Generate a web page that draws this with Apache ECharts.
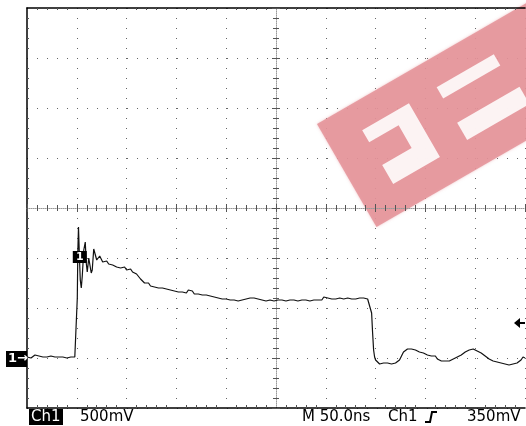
<!DOCTYPE html>
<html><head><meta charset="utf-8">
<script src="https://cdn.jsdelivr.net/npm/echarts@6/dist/echarts.min.js"></script>
<style>html,body{margin:0;padding:0;background:#fff;overflow:hidden}#c{width:526px;height:426px}</style>
</head><body><div id="c"></div>
<script>
// ---- data: [time ns from left edge of screen, volts relative to Ch1 ground] ----
const baselinePts = [
  [0,0.01],[2,0.02],[4,0.00],[6,0.01],[8,0.03],[10,0.01],[12,0.02],[14,0.00],[16,0.01],[18,0.02],
  [20,0.01],[22,0.03],[24,0.02],[26,0.00],[28,0.01],[30,0.02],[32,0.01],[34,0.03],[36,0.01],[38,0.02],
  [40,0.00],[42,0.02],[44,0.01],[46,0.03],[48,0.01]
];
const edgePts = [
  [49.5,0.02],[50.5,0.60],[51,1.05],[51.7,1.31],[52.5,1.05],[53.5,0.78],[54.5,0.70],[55.5,0.82],
  [57,1.08],[58.5,1.16],[59.5,0.95],[60.5,0.86],[62,1.00],[63,1.01],[64.5,0.85],[65.5,0.88],
  [67,1.09],[68,1.11],[70,0.98],[71.5,1.00],[73,1.02]
];
const decayPts = [
  [76,0.96],[78,0.98],[80,0.97],[82,0.94],[84,0.96],[86,0.93],[88,0.95],[90,0.91],[92,0.93],[94,0.90],
  [96,0.89],[98,0.91],[100,0.88],[102,0.87],[104,0.89],[106,0.86],[108,0.87],[110,0.84],[112,0.82],[114,0.79],
  [116,0.77],[118,0.75],[120,0.74],[122,0.75],[124,0.72],[126,0.74],[128,0.71],[130,0.73],[132,0.70],[134,0.72],
  [136,0.70],[138,0.71],[140,0.69],[142,0.71],[144,0.68],[146,0.69],[148,0.67],[150,0.69],[152,0.66],[154,0.68],
  [156,0.66],[158,0.67],[160,0.65],[162,0.68],[164,0.66],[166,0.67],[168,0.64],[170,0.66],[172,0.64],[174,0.65],
  [176,0.63],[178,0.65],[180,0.63],[182,0.64],[184,0.62],[186,0.63],[188,0.61],[190,0.63],[192,0.60],[194,0.61],
  [196,0.59],[198,0.61],[200,0.59],[202,0.60],[204,0.58],[206,0.60],[208,0.58],[210,0.59],[212,0.57],[214,0.59],
  [216,0.58],[218,0.60],[220,0.59],[222,0.61],[224,0.60],[226,0.62],[228,0.60],[230,0.61],[232,0.59],[234,0.60],
  [236,0.58],[238,0.59],[240,0.57],[242,0.59],[244,0.58],[246,0.59],[248,0.57],[250,0.59],[252,0.58],[254,0.60],
  [256,0.58],[258,0.59],[260,0.57],[262,0.59],[264,0.58],[266,0.60],[268,0.58],[270,0.59],[272,0.57],[274,0.59],
  [276,0.58],[278,0.60],[280,0.58],[282,0.59],[284,0.57],[286,0.59],[288,0.58],[290,0.60],[292,0.58],[294,0.59],
  [296,0.58],[298,0.61],[300,0.59],[302,0.60],[304,0.58],[306,0.59],[308,0.57],[310,0.59],[312,0.58],[314,0.60],
  [316,0.58],[318,0.59],[320,0.58],[322,0.60],[324,0.58],[326,0.59],[328,0.57],[330,0.59],[332,0.58],[334,0.60],
  [336,0.59],[338,0.60],[340,0.58],[342,0.59],[344,0.57]
];
const tailPts = [
  [346,0.45],[347,0.25],[348,0.08],[349,0.01],[350,-0.02],
  [352,-0.04],[354,-0.06],[356,-0.04],[358,-0.05],[360,-0.03],[362,-0.05],[364,-0.04],[366,-0.06],[368,-0.04],[370,-0.05],
  [372,-0.03],[374,-0.02],[376,0.02],[378,0.06],[380,0.08],[382,0.09],[384,0.08],[386,0.09],[388,0.07],[390,0.08],
  [392,0.07],[394,0.06],[396,0.07],[398,0.05],[400,0.05],[402,0.03],[404,0.04],[406,0.02],[408,0.01],[410,0.02],
  [412,-0.01],[414,-0.01],[416,-0.03],[418,-0.02],[420,-0.03],[422,-0.01],[424,-0.03],[426,-0.02],[428,-0.01],[430,-0.02],
  [432,0.01],[434,0.01],[436,0.03],[438,0.04],[440,0.06],[442,0.07],[444,0.08],[446,0.10],[448,0.09],[450,0.10],
  [452,0.07],[454,0.07],[456,0.05],[458,0.04],[460,0.02],[462,0.02],[464,-0.01],[466,-0.01],[468,-0.03],[470,-0.02],
  [472,-0.04],[474,-0.04],[476,-0.05],[478,-0.04],[480,-0.06],[482,-0.05],[484,-0.07],[486,-0.06],[488,-0.06],[490,-0.07],
  [492,-0.05],[494,-0.06],[496,-0.02],[498,0.01],[500,0.00]
];
const nsPerDiv = 50;
const voltsPerDiv = 0.5;
const screenV = [-0.5, 3.5];
const screenNs = [0, 500];
const triggerLevelV = 0.35;
const markerPoint = [53, 1.01];
const statusTexts = ['Ch1', '500mV', 'M 50.0ns', 'Ch1', '350mV'];

// ---- chart ----
const chart = echarts.init(document.getElementById('c'), null, {renderer: 'canvas'});
const FONT = 'DejaVu Sans';
const gridDots = {show: true, lineStyle: {color: '#666', width: 1, type: [1, 9]}};
function xAx(extra) {
  return Object.assign({
    type: 'value', min: screenNs[0], max: screenNs[1], interval: nsPerDiv,
    axisLabel: {show: false}, splitLine: {show: false},
    axisTick: {show: false}, minorTick: {show: false},
    axisLine: {show: false, onZero: false}
  }, extra);
}
function yAx(extra) {
  return Object.assign({
    type: 'value', min: screenV[0], max: screenV[1], interval: voltsPerDiv,
    axisLabel: {show: false}, splitLine: {show: false},
    axisTick: {show: false}, minorTick: {show: false},
    axisLine: {show: false, onZero: false}
  }, extra);
}
const crossLine = {show: true, onZero: false, lineStyle: {color: '#9a9a9a', width: 1, type: [1, 1]}};
const tickStyle = {color: '#555', width: 1};
chart.setOption({
  animation: false,
  backgroundColor: '#ffffff',
  grid: {left: 27, top: 8, width: 498, height: 400, containLabel: false, outerBoundsMode: 'none'},
  xAxis: [
    xAx({position: 'bottom', splitLine: gridDots,
         axisLine: {show: true, onZero: false, lineStyle: {color: '#000', width: 1.5}},
         axisTick: {show: false, inside: true},
         minorTick: {show: true, splitNumber: 5, length: 3, lineStyle: tickStyle}}),
    xAx({position: 'top',
         axisLine: {show: true, onZero: false, lineStyle: {color: '#000', width: 1.5}},
         axisTick: {show: false, inside: true},
         minorTick: {show: true, splitNumber: 5, length: 2, lineStyle: tickStyle}}),
    xAx({position: 'bottom', offset: -200, axisLine: crossLine,
         axisTick: {show: true, inside: true, length: 4, lineStyle: tickStyle},
         minorTick: {show: true, splitNumber: 5, length: 3, lineStyle: tickStyle}}),
    xAx({position: 'bottom', offset: -200,
         axisTick: {show: true, inside: false, length: 4, lineStyle: tickStyle},
         minorTick: {show: true, splitNumber: 5, length: 3, lineStyle: tickStyle}})
  ],
  yAxis: [
    yAx({position: 'left', splitLine: gridDots,
         axisLine: {show: true, onZero: false, lineStyle: {color: '#000', width: 1.5}},
         axisTick: {show: false, inside: true},
         minorTick: {show: true, splitNumber: 5, length: 2, lineStyle: tickStyle}}),
    yAx({position: 'left', offset: -249, axisLine: crossLine,
         axisTick: {show: true, inside: true, length: 4, lineStyle: tickStyle},
         minorTick: {show: true, splitNumber: 5, length: 3, lineStyle: tickStyle}}),
    yAx({position: 'left', offset: -249,
         axisTick: {show: true, inside: false, length: 4, lineStyle: tickStyle},
         minorTick: {show: true, splitNumber: 5, length: 3, lineStyle: tickStyle}})
  ],
  series: [{
    type: 'line', xAxisIndex: 0, yAxisIndex: 0, showSymbol: false, symbol: 'none',
    data: baselinePts.concat(edgePts, decayPts, tailPts),
    lineStyle: {color: '#111', width: 1.2}, z: 5
  }]
});

// ---- annotations positioned through the chart's own scales ----
const gnd = chart.convertToPixel({gridIndex: 0}, [0, 0]);
const trg = chart.convertToPixel({gridIndex: 0}, [screenNs[1], triggerLevelV]);
const mk = chart.convertToPixel({gridIndex: 0}, markerPoint);
const white = 'rgba(255,255,255,0.88)';
const textY = 417;
chart.setOption({
  graphic: [
    // watermark
    {type: 'group', x: 317, y: 124, rotation: Math.PI / 6, z: 50, children: [
      {type: 'rect', shape: {x: 0, y: 0, width: 330, height: 119}, style: {fill: 'rgba(228,146,152,0.85)', shadowBlur: 3, shadowColor: 'rgba(228,146,152,0.6)'}},
      {type: 'polygon', shape: {points: [[36,28],[90,28],[90,90],[36,90],[36,68],[70,68],[70,42],[36,42]]}, style: {fill: white}},
      {type: 'rect', shape: {x: 122, y: 28, width: 66, height: 13}, style: {fill: white}},
      {type: 'rect', shape: {x: 122, y: 69, width: 72, height: 20}, style: {fill: white}}
    ]},
    // ground marker
    {type: 'rect', shape: {x: 6, y: gnd[1] - 7, width: 21, height: 16}, style: {fill: '#000'}, z: 60},
    {type: 'text', x: 8, y: gnd[1] + 1, style: {text: '1→', fill: '#fff', font: 'bold 13px ' + FONT, verticalAlign: 'middle'}, z: 61},
    // trigger level arrow
    {type: 'polygon', shape: {points: [[trg[0] - 11, trg[1]], [trg[0] - 5, trg[1] - 5], [trg[0] - 5, trg[1] + 5]]}, style: {fill: '#000'}, z: 60},
    {type: 'rect', shape: {x: trg[0] - 6, y: trg[1] - 1, width: 6, height: 2}, style: {fill: '#000'}, z: 60},
    // waveform marker
    {type: 'rect', shape: {x: mk[0] - 7, y: mk[1] - 6, width: 14, height: 12}, style: {fill: '#000'}, z: 60},
    {type: 'text', x: mk[0], y: mk[1], style: {text: '1', fill: '#fff', font: 'bold 11px ' + FONT, align: 'center', verticalAlign: 'middle'}, z: 61},
    // status line
    {type: 'rect', shape: {x: 29, y: 409, width: 34, height: 16}, style: {fill: '#000'}, z: 60},
    {type: 'text', x: 31, y: textY, style: {text: statusTexts[0], fill: '#fff', font: '15px ' + FONT, verticalAlign: 'middle'}, z: 61},
    {type: 'text', x: 80, y: textY, style: {text: statusTexts[1], fill: '#000', font: '15px ' + FONT, verticalAlign: 'middle'}, z: 61},
    {type: 'text', x: 302, y: textY, style: {text: statusTexts[2], fill: '#000', font: '15px ' + FONT, verticalAlign: 'middle'}, z: 61},
    {type: 'text', x: 388, y: textY, style: {text: statusTexts[3], fill: '#000', font: '15px ' + FONT, verticalAlign: 'middle'}, z: 61},
    {type: 'polyline', shape: {points: [[425, 422], [430, 422], [432, 412], [437, 412]]}, style: {stroke: '#000', lineWidth: 2, fill: null}, z: 61},
    {type: 'text', x: 467, y: textY, style: {text: statusTexts[4], fill: '#000', font: '15px ' + FONT, verticalAlign: 'middle'}, z: 61}
  ]
});
</script>
</body></html>
